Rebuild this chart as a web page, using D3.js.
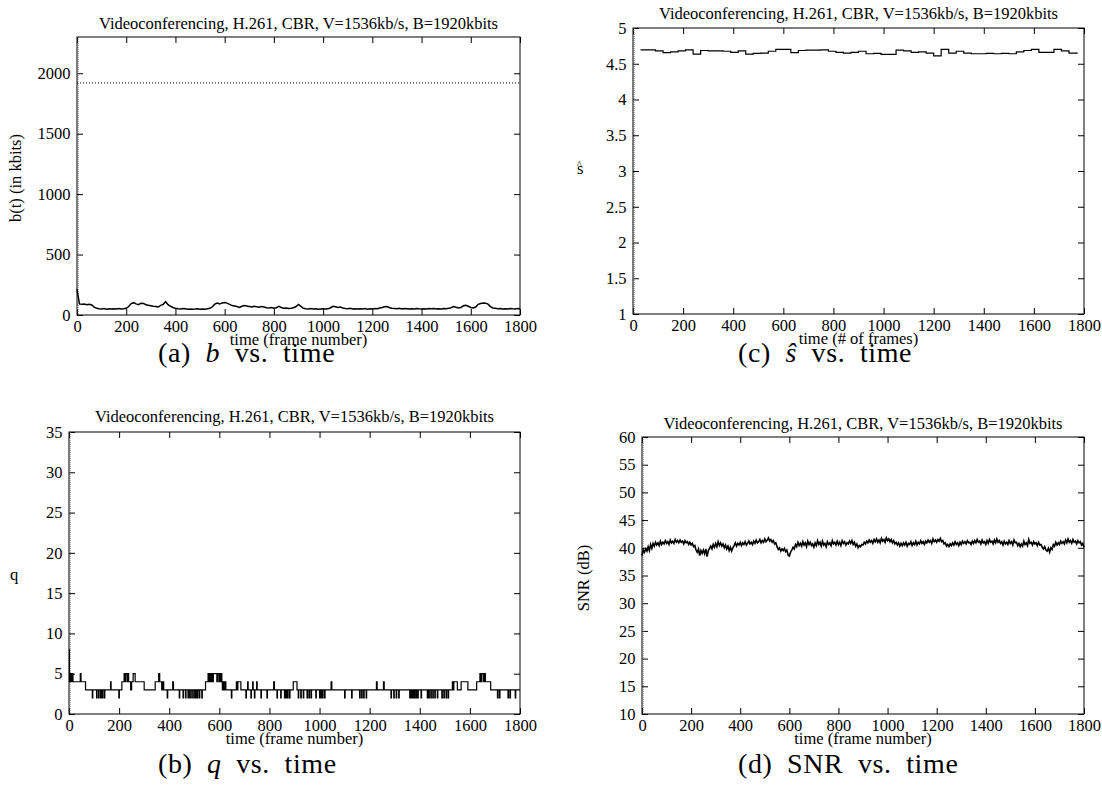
<!DOCTYPE html>
<html lang="en">
<head>
<meta charset="utf-8">
<title>Videoconferencing H.261 CBR</title>
<script src="https://d3js.org/d3.v7.min.js"></script>
<style>
  body { margin: 0; background: #fff; }
  svg { font-family: "Liberation Serif", "Times New Roman", serif; }
</style>
</head>
<body>
<svg id="fig" width="1102" height="804"></svg>
<script>
// ---- data ----
const titleText = "Videoconferencing, H.261, CBR, V=1536kb/s, B=1920kbits";
const xTicks = [0, 200, 400, 600, 800, 1000, 1200, 1400, 1600, 1800];
const bTicks = [0, 500, 1000, 1500, 2000];
const qTicks = [0, 5, 10, 15, 20, 25, 30, 35];
const sTicks = [1, 1.5, 2, 2.5, 3, 3.5, 4, 4.5, 5];
const snrTicks = [10, 15, 20, 25, 30, 35, 40, 45, 50, 55, 60];

const bufferSize = 1920; // B, dotted line in (a)

// buffer occupancy b(t) in kbits, one value every 10 frames (0..1800)
const bStep = 10;
const bValues = [
  215, 92, 88, 90, 85, 88, 83, 65, 55, 52,
  50, 53, 48, 51, 49, 52, 50, 54, 50, 52,
  55, 70, 95, 102, 92, 85, 98, 96, 85, 80,
  76, 72, 70, 66, 80, 88, 110, 85, 72, 62,
  55, 52, 50, 54, 51, 48, 50, 47, 49, 52,
  48, 50, 47, 52, 55, 68, 90, 98, 92, 100,
  104, 98, 88, 78, 74, 70, 62, 72, 78, 74,
  70, 66, 72, 68, 64, 70, 66, 60, 58, 62,
  56, 60, 72, 62, 56, 58, 54, 56, 60, 70,
  88, 72, 56, 52, 50, 53, 49, 51, 48, 50,
  52, 49, 51, 60, 72, 68, 62, 66, 58, 54,
  52, 55, 50, 52, 49, 51, 50, 53, 48, 52,
  50, 54, 52, 58, 62, 68, 70, 60, 56, 54,
  52, 55, 50, 53, 51, 49, 52, 50, 54, 51,
  49, 52, 50, 53, 51, 54, 50, 52, 49, 53,
  52, 55, 60, 70, 64, 58, 62, 76, 80, 72,
  62, 58, 66, 88, 95, 100, 98, 90, 70, 58,
  55, 52, 54, 50, 52, 49, 53, 51, 50, 54,
  52
];

// quantizer q: frame where a new level starts, and the level
const qFrames = [
  0, 2, 5, 9, 12, 16, 45, 48, 66, 93, 95, 110, 112, 118, 120, 126, 128, 133, 135, 141,
  143, 166, 168, 199, 201, 211, 220, 224, 226, 232, 234, 238, 246, 250, 256, 264, 300, 344, 358, 362,
  370, 374, 378, 392, 394, 414, 417, 440, 442, 455, 457, 465, 467, 475, 477, 482, 484, 490, 492, 498,
  500, 505, 507, 512, 514, 520, 522, 530, 532, 545, 555, 558, 562, 565, 569, 572, 576, 590, 592, 598,
  600, 604, 606, 610, 612, 615, 618, 623, 626, 648, 650, 668, 671, 674, 686, 706, 708, 713, 715, 726,
  728, 733, 735, 740, 742, 749, 751, 766, 768, 790, 792, 817, 820, 830, 832, 845, 847, 860, 862, 866,
  868, 872, 874, 880, 882, 895, 910, 915, 917, 925, 927, 935, 937, 950, 952, 958, 960, 966, 968, 985,
  987, 1000, 1002, 1005, 1007, 1012, 1014, 1020, 1022, 1046, 1049, 1100, 1102, 1128, 1130, 1160, 1162, 1168, 1170, 1176,
  1178, 1186, 1188, 1227, 1230, 1255, 1258, 1285, 1287, 1296, 1298, 1306, 1308, 1316, 1318, 1360, 1362, 1366, 1368, 1372,
  1374, 1378, 1380, 1385, 1387, 1392, 1394, 1405, 1407, 1430, 1432, 1436, 1438, 1444, 1446, 1452, 1454, 1460, 1462, 1470,
  1472, 1488, 1490, 1496, 1498, 1505, 1507, 1513, 1515, 1530, 1534, 1536, 1550, 1565, 1592, 1627, 1640, 1644, 1648, 1655,
  1658, 1662, 1683, 1710, 1712, 1718, 1720, 1752, 1754, 1760, 1762, 1781, 1783, 1800
];
const qLevels = [
  8, 4, 5, 4, 5, 4, 5, 4, 3, 2, 3, 2, 3, 2, 3, 2, 3, 2, 3, 2,
  3, 4, 3, 2, 3, 4, 5, 4, 5, 4, 5, 4, 3, 4, 5, 4, 3, 4, 5, 4,
  3, 4, 3, 2, 3, 4, 3, 2, 3, 2, 3, 2, 3, 2, 3, 2, 3, 2, 3, 2,
  3, 2, 3, 2, 3, 2, 3, 2, 3, 4, 5, 4, 5, 4, 5, 4, 5, 4, 5, 4,
  5, 4, 5, 4, 3, 4, 3, 4, 3, 2, 3, 4, 3, 4, 3, 2, 3, 4, 3, 2,
  3, 4, 3, 2, 3, 4, 3, 2, 3, 2, 3, 4, 3, 2, 3, 2, 3, 2, 3, 2,
  3, 2, 3, 2, 3, 4, 3, 2, 3, 2, 3, 2, 3, 2, 3, 2, 3, 2, 3, 2,
  3, 2, 3, 2, 3, 2, 3, 2, 3, 4, 3, 2, 3, 2, 3, 2, 3, 2, 3, 2,
  3, 2, 3, 4, 3, 4, 3, 2, 3, 2, 3, 2, 3, 2, 3, 2, 3, 2, 3, 2,
  3, 2, 3, 2, 3, 2, 3, 2, 3, 2, 3, 2, 3, 2, 3, 2, 3, 2, 3, 2,
  3, 2, 3, 2, 3, 2, 3, 2, 3, 4, 3, 4, 3, 4, 3, 4, 5, 4, 5, 4,
  5, 4, 3, 2, 3, 2, 3, 2, 3, 2, 3, 2, 3, 3
];

// s-hat, one level per 30-frame window; last window ends at frame 1775
const sFrames = [
  30, 60, 90, 120, 150, 180, 210, 240, 270, 300, 330, 360, 390, 420, 450, 480, 510, 540, 570, 600,
  630, 660, 690, 720, 750, 780, 810, 840, 870, 900, 930, 960, 990, 1020, 1050, 1080, 1110, 1140, 1170, 1200,
  1230, 1260, 1290, 1320, 1350, 1380, 1410, 1440, 1470, 1500, 1530, 1560, 1590, 1620, 1650, 1680, 1710, 1740, 1775
];
const sValues = [
  4.695, 4.695, 4.68, 4.655, 4.665, 4.68, 4.695, 4.635, 4.685, 4.68,
  4.68, 4.675, 4.66, 4.68, 4.635, 4.645, 4.65, 4.675, 4.70, 4.70,
  4.655, 4.685, 4.69, 4.69, 4.695, 4.675, 4.66, 4.65, 4.66, 4.675,
  4.64, 4.645, 4.63, 4.63, 4.69, 4.68, 4.66, 4.665, 4.65, 4.61,
  4.70, 4.65, 4.675, 4.65, 4.64, 4.64, 4.645, 4.64, 4.645, 4.64,
  4.665, 4.685, 4.70, 4.66, 4.66, 4.70, 4.68, 4.65, 4.65
];

// SNR in dB, one value every 5 frames (0..1800)
const snrStep = 5;
const snrValues = [
  38.6, 39.6, 39.2, 39.8, 39.4, 40.2, 39.5, 40.6, 39.9, 40.8,
  40.3, 41.0, 40.5, 40.9, 40.4, 41.2, 40.6, 41.0, 40.7, 41.3,
  40.8, 41.1, 40.6, 41.4, 40.9, 41.2, 40.8, 41.5, 41.0, 41.3,
  40.9, 41.4, 41.0, 41.2, 40.7, 41.3, 40.9, 41.1, 40.6, 41.0,
  40.5, 40.8, 40.2, 40.4, 39.6, 39.2, 39.8, 38.6, 39.5, 39.0,
  39.6, 38.9, 39.8, 38.4, 39.5, 39.9, 40.3, 39.8, 40.6, 40.1,
  40.8, 40.2, 41.1, 40.4, 40.9, 40.3, 40.7, 40.0, 40.5, 39.8,
  40.3, 39.5, 40.1, 39.4, 40.0, 40.4, 40.9, 40.3, 40.8, 40.5,
  41.0, 40.4, 40.9, 40.6, 41.1, 40.5, 40.8, 41.2, 40.7, 41.0,
  40.6, 41.2, 40.8, 41.4, 40.9, 41.1, 41.5, 40.9, 41.3, 41.0,
  41.6, 41.1, 41.4, 41.8, 41.2, 41.5, 41.0, 41.3, 40.7, 40.9,
  40.2, 39.7, 40.0, 39.4, 39.8, 39.5, 39.9, 39.3, 39.6, 38.7,
  38.5, 39.2, 39.6, 40.1, 39.8, 40.6, 40.2, 41.0, 40.4, 40.8,
  40.3, 41.1, 40.5, 40.9, 40.2, 41.2, 40.6, 41.0, 40.4, 40.7,
  40.1, 40.9, 40.4, 41.3, 40.6, 41.0, 40.3, 41.2, 40.5, 40.8,
  40.2, 41.1, 40.6, 40.9, 40.4, 41.3, 40.7, 41.0, 40.5, 41.2,
  40.6, 41.0, 40.4, 41.3, 40.8, 41.1, 40.5, 40.9, 40.7, 41.2,
  40.8, 41.3, 40.6, 41.0, 40.3, 40.7, 40.0, 40.4, 40.2, 40.6,
  40.5, 41.0, 40.7, 41.2, 40.9, 41.4, 41.0, 41.3, 40.8, 41.5,
  41.1, 41.6, 41.0, 41.4, 40.9, 41.7, 41.2, 41.5, 41.0, 41.8,
  41.3, 41.6, 41.1, 41.5, 40.9, 41.3, 40.7, 41.0, 40.5, 40.9,
  40.3, 40.8, 40.4, 40.9, 40.5, 41.0, 40.3, 40.8, 40.6, 41.1,
  40.4, 40.9, 40.6, 41.2, 40.5, 41.0, 40.7, 41.3, 40.8, 41.1,
  40.6, 41.2, 40.9, 41.4, 41.0, 41.3, 40.8, 41.6, 41.1, 41.4,
  41.0, 41.5, 41.2, 41.7, 41.1, 41.3, 40.7, 40.9, 40.3, 40.6,
  40.2, 40.7, 40.4, 40.9, 40.5, 41.1, 40.6, 40.9, 40.4, 41.0,
  40.6, 41.2, 40.8, 41.1, 40.7, 41.3, 40.9, 41.0, 40.6, 41.2,
  40.8, 41.3, 40.9, 41.5, 41.0, 41.2, 40.7, 41.4, 40.9, 41.1,
  40.6, 41.3, 40.8, 41.5, 41.0, 41.2, 40.7, 41.4, 40.9, 41.6,
  41.0, 41.3, 40.8, 41.1, 40.5, 41.2, 40.7, 41.0, 40.6, 41.3,
  40.8, 41.1, 40.5, 41.4, 40.9, 41.0, 40.4, 40.8, 40.2, 40.7,
  40.3, 41.2, 40.6, 40.9, 40.4, 41.5, 40.8, 41.0, 40.5, 41.1,
  40.7, 40.9, 40.4, 41.0, 40.5, 40.6, 40.1, 39.8, 40.2, 39.6,
  39.4, 39.9, 39.2, 40.0, 39.7, 40.6, 40.3, 41.0, 40.5, 40.9,
  40.6, 41.2, 40.8, 41.1, 40.7, 41.4, 40.9, 41.6, 41.0, 41.3,
  40.8, 41.5, 41.0, 41.2, 40.7, 41.3, 40.9, 41.1, 40.5, 40.8,
  40.1
];

// ---- drawing ----
const svg = d3.select("#fig");
const FONT = 16.5;

function panel(cfg) {
  const x = d3.scaleLinear().domain([0, 1800]).range([cfg.left, cfg.right]);
  const y = d3.scaleLinear().domain(cfg.yDomain).range([cfg.bottom, cfg.top]);
  const g = svg.append("g");
  const plain = d => String(d);

  // gnuplot style: inward ticks on all four sides, labels only bottom/left
  const axes = [
    [d3.axisBottom(x).tickValues(xTicks).tickSize(-6).tickPadding(5).tickFormat(plain), `translate(0,${cfg.bottom})`],
    [d3.axisTop(x).tickValues(xTicks).tickSize(-6).tickFormat(""), `translate(0,${cfg.top})`],
    [d3.axisLeft(y).tickValues(cfg.yTicks).tickSize(-6).tickPadding(6.5).tickFormat(plain), `translate(${cfg.left},0)`],
    [d3.axisRight(y).tickValues(cfg.yTicks).tickSize(-6).tickFormat(""), `translate(${cfg.right},0)`]
  ];
  for (const [ax, tr] of axes) {
    const a = g.append("g").attr("transform", tr).call(ax.tickSizeOuter(0));
    a.attr("font-family", null).attr("font-size", FONT);
    a.select(".domain").remove();
    a.selectAll(".tick line").attr("stroke", "#000");
    a.selectAll(".tick text").attr("fill", "#000");
  }

  g.append("rect")
    .attr("x", cfg.left).attr("y", cfg.top)
    .attr("width", cfg.right - cfg.left).attr("height", cfg.bottom - cfg.top)
    .attr("fill", "none").attr("stroke", "#000").attr("stroke-width", 1);
  // dotted zero axis just inside the left border
  g.append("line")
    .attr("x1", cfg.left + 1).attr("x2", cfg.left + 1)
    .attr("y1", cfg.top).attr("y2", cfg.bottom)
    .attr("stroke", "#666").attr("stroke-dasharray", "1,1");

  g.append("text")
    .attr("x", (cfg.left + cfg.right) / 2).attr("y", cfg.titleY)
    .attr("text-anchor", "middle").attr("font-size", FONT)
    .text(titleText);

  g.append("text")
    .attr("x", (cfg.left + cfg.right) / 2).attr("y", cfg.bottom + 30)
    .attr("text-anchor", "middle").attr("font-size", FONT)
    .text(cfg.xLabel);

  return { g, x, y };
}

// sub-figure captions, left edge aligned under each column
function caption(x0, y0, tag, sym, italic) {
  const t = svg.append("text")
    .attr("x", x0).attr("y", y0)
    .attr("font-size", 28)
    .attr("letter-spacing", 0.6)
    .attr("word-spacing", 7);
  t.append("tspan").text(`(${tag}) `);
  t.append("tspan").attr("font-style", italic ? "italic" : null).text(sym);
  t.append("tspan").text(" vs. time");
}

// (a) b vs time
{
  const p = panel({ left: 77, right: 520, top: 37, bottom: 315, yDomain: [0, 2300], yTicks: bTicks,
    titleY: 29, xLabel: "time (frame number)" });
  p.g.append("line")
    .attr("x1", p.x(0)).attr("x2", p.x(1800))
    .attr("y1", p.y(bufferSize)).attr("y2", p.y(bufferSize))
    .attr("stroke", "#000").attr("stroke-width", 1).attr("stroke-dasharray", "1,2");
  p.g.append("path")
    .datum(bValues)
    .attr("fill", "none").attr("stroke", "#000").attr("stroke-width", 1.5)
    .attr("d", d3.line().x((d, i) => p.x(i * bStep)).y(d => p.y(d)));
  svg.append("text")
    .attr("transform", `translate(21,178) rotate(-90)`)
    .attr("text-anchor", "middle").attr("font-size", FONT)
    .text("b(t) (in kbits)");
}

// (b) q vs time
{
  const p = panel({ left: 69, right: 520, top: 432, bottom: 714, yDomain: [0, 35], yTicks: qTicks,
    titleY: 422, xLabel: "time (frame number)" });
  p.g.append("path")
    .datum(qFrames.map((f, i) => [f, qLevels[i]]))
    .attr("fill", "none").attr("stroke", "#000").attr("stroke-width", 1.2)
    .attr("d", d3.line().curve(d3.curveStepAfter).x(d => p.x(d[0])).y(d => p.y(d[1])));
  svg.append("text")
    .attr("x", 14).attr("y", 580)
    .attr("text-anchor", "middle").attr("font-size", FONT)
    .text("q");
}

// (c) s-hat vs time
{
  const p = panel({ left: 633, right: 1084, top: 28, bottom: 314, yDomain: [1, 5], yTicks: sTicks,
    titleY: 19, xLabel: "time (# of frames)" });
  p.g.append("path")
    .datum(sFrames.map((f, i) => [f, sValues[i]]))
    .attr("fill", "none").attr("stroke", "#000").attr("stroke-width", 1.2)
    .attr("d", d3.line().curve(d3.curveStepAfter).x(d => p.x(d[0])).y(d => p.y(d[1])));
  const lbl = svg.append("text")
    .attr("x", 577).attr("y", 174)
    .attr("font-size", FONT);
  lbl.append("tspan").text("s");
  lbl.append("tspan").attr("dx", -6.5).attr("dy", -6).attr("font-size", 10).text("^");
}

// (d) SNR vs time
{
  const p = panel({ left: 642, right: 1084, top: 437, bottom: 714, yDomain: [10, 60], yTicks: snrTicks,
    titleY: 429, xLabel: "time (frame number)" });
  p.g.append("path")
    .datum(snrValues)
    .attr("fill", "none").attr("stroke", "#000").attr("stroke-width", 1.6)
    .attr("d", d3.line().x((d, i) => p.x(i * snrStep)).y(d => p.y(d)));
  svg.append("text")
    .attr("transform", `translate(589,578) rotate(-90)`)
    .attr("text-anchor", "middle").attr("font-size", FONT)
    .text("SNR (dB)");
}

caption(158, 362, "a", "b", true);
caption(158, 773, "b", "q", true);
caption(738, 362, "c", "ŝ", true);
caption(738, 773, "d", "SNR", false);
</script>
</body>
</html>
